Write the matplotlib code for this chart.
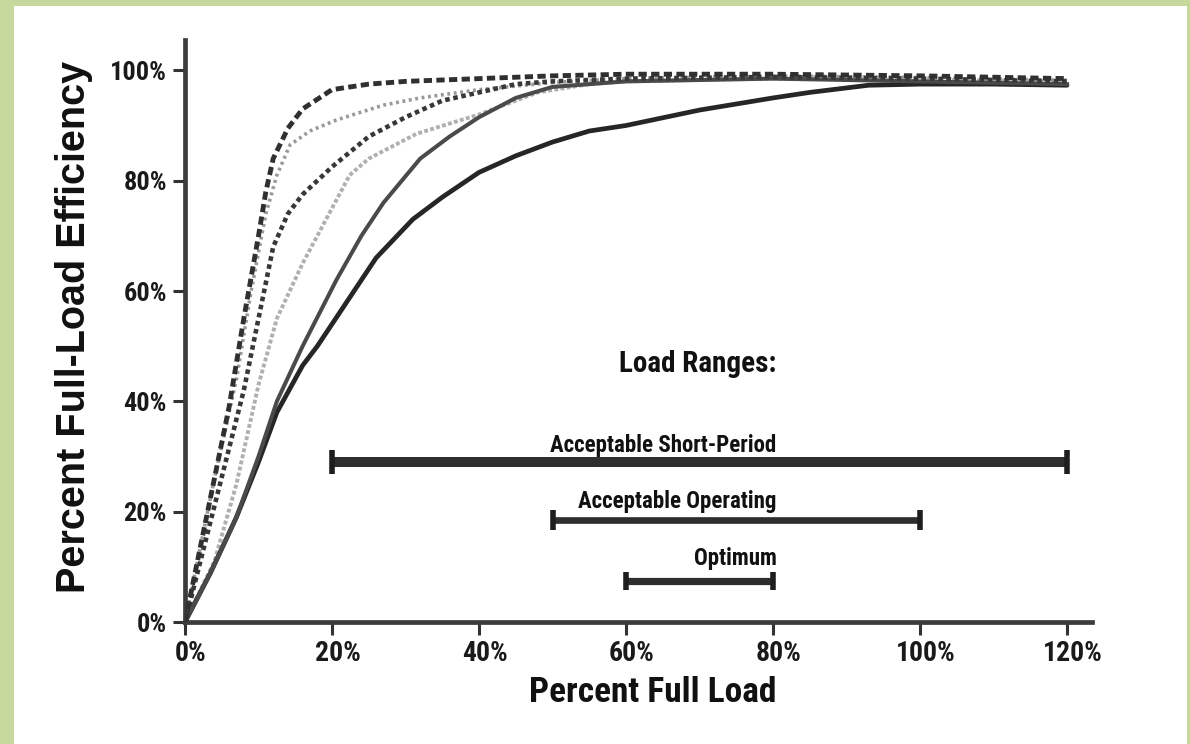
import matplotlib
matplotlib.use("Agg")
import matplotlib.pyplot as plt
from matplotlib import font_manager as fm
from matplotlib.patches import Rectangle
import matplotlib.transforms as mtransforms

# ---------------- data ----------------
load_A = [0, 4, 6, 8, 10, 11, 12, 14, 16, 20, 25, 30, 40, 50, 60, 80, 100, 120]
eff_A = [0, 26, 39, 55, 70, 78, 84, 89.5, 93, 96.5, 97.5, 98, 98.5, 99, 99.3, 99.3, 99, 98.5]

load_B = [0, 4, 7, 9, 11, 12.5, 14.3, 17, 20.6, 27, 32, 40, 50, 60, 80, 100, 120]
eff_B = [0, 26, 44, 60, 74, 81, 86.5, 89, 91, 93.7, 95, 96.5, 97.8, 98.5, 99, 98.7, 98.2]

load_C = [0, 4, 8, 10, 12, 14, 16, 20, 25, 30, 35, 40, 45, 50, 60, 80, 100, 120]
eff_C = [0, 21, 42, 55, 68, 74, 77.5, 82.5, 88, 91.5, 94.5, 96, 97.5, 98, 98.5, 98.8, 98.5, 98]

load_D = [0, 4, 7, 10, 12.5, 16, 20, 22.4, 25, 31.5, 40, 48, 55, 60, 80, 100, 120]
eff_D = [0, 11, 25, 43, 55, 65, 75, 81, 84, 88.5, 92, 96, 97.5, 98, 98.5, 98.3, 98]

load_E = [0, 3.5, 7, 10, 12.5, 16, 20.6, 24, 27, 32, 36, 40, 45, 50, 60, 80, 100, 120]
eff_E = [0, 9, 19, 30, 40, 50, 62, 70, 76, 84, 88, 91.5, 95, 97, 98, 98.5, 98, 97.5]

load_F = [0, 3.5, 7, 10, 12.5, 16, 18, 22, 26, 31, 35, 40, 45, 50, 55, 60, 70, 80, 85, 93, 100, 110, 120]
eff_F = [0, 9, 19, 29, 38, 46.5, 50, 58, 66, 73, 77, 81.5, 84.5, 87, 89, 90, 92.8, 95, 96, 97.3, 97.5, 97.5, 97.3]

range_labels = ["Acceptable Short-Period", "Acceptable Operating", "Optimum"]
range_start = [20, 50, 60]
range_end = [120, 100, 80]
range_level = [29, 18.5, 7.5]
range_label_base = [30.8, 20.6, 10.3]

x_ticks = [0, 20, 40, 60, 80, 100, 120]
x_tick_labels = ["0%", "20%", "40%", "60%", "80%", "100%", "120%"]
y_ticks = [0, 20, 40, 60, 80, 100]
y_tick_labels = ["0%", "20%", "40%", "60%", "80%", "100%"]

# ---------------- fonts ----------------
available = {f.name for f in fm.fontManager.ttflist}
def pick(cands):
    for c in cands:
        if c in available:
            return c
    return "DejaVu Sans"
narrow = pick(["Liberation Sans Narrow", "Roboto Condensed", "Open Sans Condensed",
               "DejaVu Sans Condensed", "Liberation Sans"])
wide = pick(["Liberation Sans", "DejaVu Sans"])

# ---------------- figure ----------------
W, H = 1190, 744
fig = plt.figure(figsize=(W / 100, H / 100), dpi=100)
fig.patch.set_facecolor("#c6d89c")
fig.patches.append(Rectangle((14 / W, 0), (1187 - 14) / W, (744 - 6) / H,
                             transform=fig.transFigure, facecolor="white",
                             edgecolor="none", zorder=-10))

ax = fig.add_axes([185 / W, (744 - 622) / H, (1092 - 185) / W, (622 - 40) / H])
ax.set_facecolor("none")
ax.set_xlim(0, 123.4)
ax.set_ylim(0, 105.5)

for s in ["top", "right"]:
    ax.spines[s].set_visible(False)
for s in ["left", "bottom"]:
    ax.spines[s].set_linewidth(3.4)
    ax.spines[s].set_color("#3c3c3c")

# curves
ax.plot(load_F, eff_F, color="#262626", lw=3.4, solid_capstyle="round", zorder=3)
ax.plot(load_E, eff_E, color="#4a4a4a", lw=2.9, zorder=3)
ax.plot(load_D, eff_D, color="#b0b0b0", lw=2.8, ls=(0, (1.0, 0.6)), zorder=2)
ax.plot(load_C, eff_C, color="#383838", lw=3.3, ls=(0, (1.0, 0.8)), zorder=3)
ax.plot(load_B, eff_B, color="#999999", lw=2.6, ls=(0, (0.8, 1.0)), zorder=2)
ax.plot(load_A, eff_A, color="#303030", lw=3.5, ls=(0, (1.7, 0.9)), zorder=4)

# load range bars
bar_lw = [7.2, 4.8, 5.2]
cap_h = [17, 14, 13]
for lab, x0, x1, yv, yb, lw, ch in zip(range_labels, range_start, range_end,
                                       range_level, range_label_base, bar_lw, cap_h):
    ax.plot([x0, x1], [yv, yv], color="#2e2e2e", lw=lw, solid_capstyle="butt", zorder=3)
    ax.plot([x0, x1], [yv, yv], ls="none", marker="|", markersize=ch,
            markeredgewidth=4, color="#1e1e1e", zorder=4)
    ax.text(80.5, yb, lab, ha="right", va="baseline", fontsize=16.5,
            fontweight="bold", family=narrow, color="#111111")

ax.text(80.5, 45.3, "Load Ranges:", ha="right", va="baseline", fontsize=21,
        fontweight="bold", family=narrow, color="#111111")

# ticks
ax.set_xticks(x_ticks)
ax.set_xticklabels(x_tick_labels)
ax.set_yticks(y_ticks)
ax.set_yticklabels(y_tick_labels)
ax.tick_params(axis="both", direction="out", length=9, width=2.2, color="#333333")
ax.tick_params(axis="x", pad=4)
ax.tick_params(axis="y", pad=4)
for t in ax.get_xticklabels():
    t.set_fontsize(20)
    t.set_fontweight("bold")
    t.set_family(narrow)
    t.set_color("#1a1a1a")
    t.set_transform(t.get_transform() +
                    mtransforms.ScaledTranslation(6 / 100, 0, fig.dpi_scale_trans))
for t in ax.get_yticklabels():
    t.set_fontsize(19)
    t.set_fontweight("bold")
    t.set_family(narrow)
    t.set_color("#1a1a1a")

# axis titles
fig.text(653 / W, (744 - 702) / H, "Percent Full Load", ha="center", va="baseline",
         fontsize=25.5, fontweight="bold", family=narrow, color="#111111")
fig.text(74 / W, (744 - 327) / H, "Percent Full-Load Efficiency", ha="center",
         va="center", rotation=90, fontsize=28.5, fontweight="bold", family=wide,
         color="#111111")

fig.savefig("out.png", dpi=100, facecolor=fig.get_facecolor())
